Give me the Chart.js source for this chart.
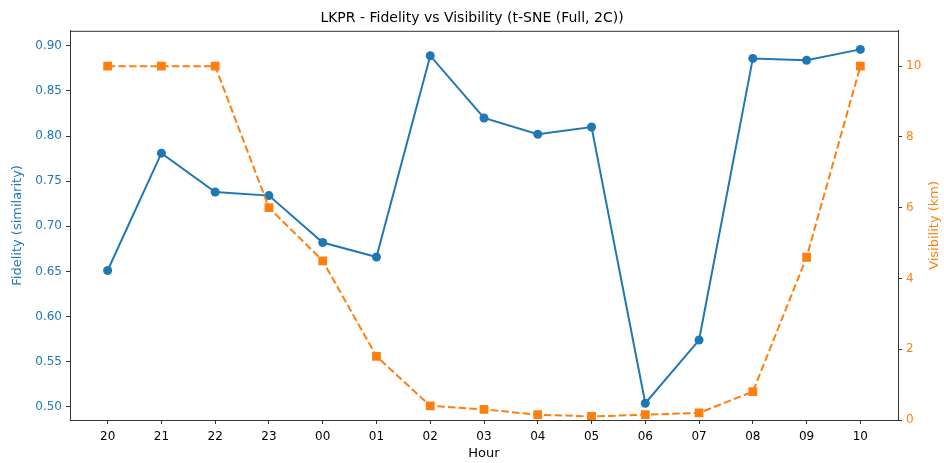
<!DOCTYPE html>
<html>
<head>
<meta charset="utf-8">
<script src="https://cdn.jsdelivr.net/npm/chart.js@4/dist/chart.umd.min.js"></script>
<style>
  html, body { margin: 0; padding: 0; background: #fff; }
  #wrap { width: 944px; height: 463px; }
</style>
</head>
<body>
<div id="wrap"><canvas id="chart" width="944" height="463"></canvas></div>
<script>
// hours on the x axis
const hours = ["20", "21", "22", "23", "00", "01", "02", "03", "04", "05", "06", "07", "08", "09", "10"];
// fidelity (similarity), left axis
const fidelity = [0.651, 0.781, 0.738, 0.734, 0.682, 0.666, 0.889, 0.820, 0.802, 0.810, 0.504, 0.574, 0.886, 0.884, 0.896];
// visibility in km, right axis
const visibility = [10, 10, 10, 6.0, 4.5, 1.8, 0.4, 0.3, 0.15, 0.1, 0.15, 0.2, 0.8, 4.6, 10];

const BLUE = '#1f77b4';
const ORANGE = '#ff7f0e';
const FONT = 'DejaVu Sans, sans-serif';

// matplotlib-like frame + right axis label (reads bottom to top)
const framePlugin = {
  id: 'frame',
  afterDraw(chart) {
    const { ctx, chartArea: a } = chart;
    ctx.save();
    ctx.strokeStyle = '#333';
    ctx.lineWidth = 1;
    ctx.strokeRect(a.left + 0.5, a.top + 0.5, a.right - a.left, a.bottom - a.top);
    ctx.translate(935, (a.top + a.bottom) / 2);
    ctx.rotate(-Math.PI / 2);
    ctx.fillStyle = ORANGE;
    ctx.font = '13px ' + FONT;
    ctx.textAlign = 'center';
    ctx.textBaseline = 'middle';
    ctx.fillText('Visibility (km)', 0, 0);
    ctx.restore();
  }
};

new Chart(document.getElementById('chart'), {
  type: 'line',
  data: {
    datasets: [
      {
        label: 'Fidelity',
        data: fidelity.map((v, i) => ({ x: i, y: v })),
        yAxisID: 'y',
        borderColor: BLUE,
        backgroundColor: BLUE,
        borderWidth: 2,
        pointStyle: 'circle',
        pointRadius: 4.5,
        pointBorderWidth: 0,
        tension: 0,
        order: 1
      },
      {
        label: 'Visibility',
        data: visibility.map((v, i) => ({ x: i, y: v })),
        yAxisID: 'y1',
        borderColor: ORANGE,
        backgroundColor: ORANGE,
        borderWidth: 2,
        borderDash: [7.5, 3.2],
        pointStyle: 'rect',
        pointRadius: 6.2,
        pointBorderWidth: 0,
        tension: 0,
        order: 0
      }
    ]
  },
  options: {
    responsive: false,
    animation: false,
    layout: { padding: 0 },
    plugins: {
      legend: { display: false },
      tooltip: { enabled: false },
      title: {
        display: true,
        text: 'LKPR - Fidelity vs Visibility (t-SNE (Full, 2C))',
        color: '#000',
        font: { size: 14, family: FONT, weight: 'normal' },
        padding: { top: 10, bottom: 4 }
      }
    },
    scales: {
      x: {
        type: 'linear',
        min: -0.7,
        max: 14.7,
        afterFit(s) { s.height = 43; },
        grid: { drawOnChartArea: false, drawTicks: true, tickLength: 4, color: '#333' },
        border: { display: true, color: '#333' },
        ticks: {
          stepSize: 1,
          includeBounds: false,
          autoSkip: false,
          maxRotation: 0,
          color: '#000',
          padding: 6,
          font: { size: 12, family: FONT },
          callback: (v) => (Number.isInteger(v) ? hours[v] : '')
        },
        title: {
          display: true,
          text: 'Hour',
          color: '#000',
          font: { size: 13, family: FONT },
          padding: { top: 2, bottom: 2 }
        }
      },
      y: {
        position: 'left',
        min: 0.4854,
        max: 0.9166,
        afterFit(s) { s.width = 70; },
        grid: { drawOnChartArea: false, drawTicks: true, tickLength: 4, color: '#333' },
        border: { display: true, color: '#333' },
        ticks: {
          stepSize: 0.05,
          includeBounds: false,
          color: BLUE,
          padding: 4,
          font: { size: 12, family: FONT },
          callback: (v) => v.toFixed(2)
        },
        title: {
          display: true,
          text: 'Fidelity (similarity)',
          color: BLUE,
          font: { size: 13, family: FONT },
          padding: { top: 10, bottom: 0 }
        }
      },
      y1: {
        position: 'right',
        min: 0,
        max: 11,
        afterFit(s) { s.width = 46; },
        grid: { drawOnChartArea: false, drawTicks: true, tickLength: 4, color: '#333' },
        border: { display: true, color: '#333' },
        ticks: {
          stepSize: 2,
          includeBounds: false,
          color: ORANGE,
          padding: 4,
          font: { size: 12, family: FONT },
          callback: (v) => String(v)
        }
      }
    }
  },
  plugins: [framePlugin]
});
</script>
</body>
</html>
